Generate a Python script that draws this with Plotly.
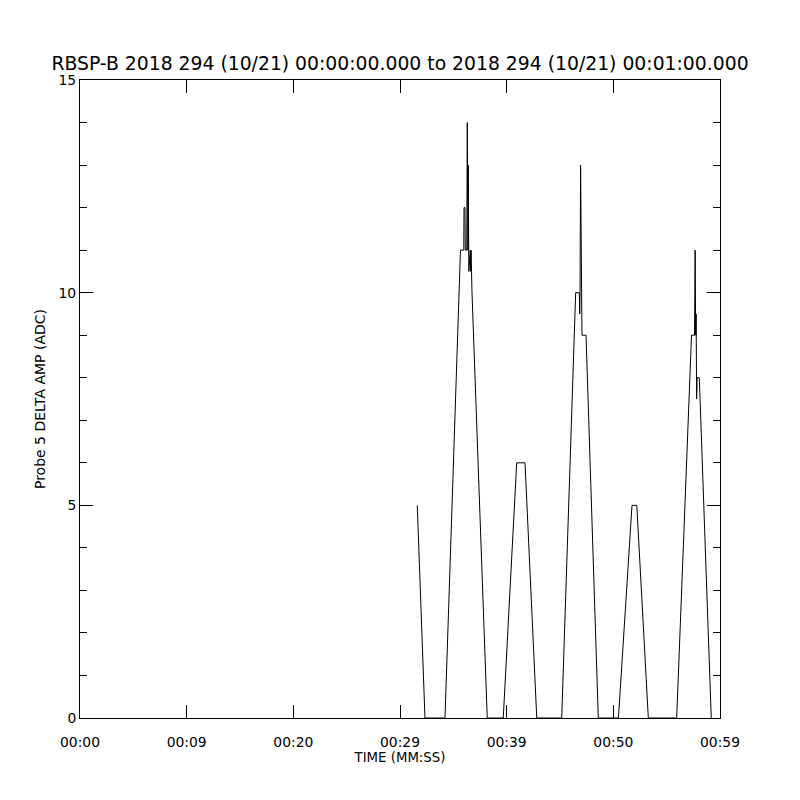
import plotly.graph_objects as go

# Time (seconds from 00:00:00) and Probe 5 DELTA AMP (ADC) values
time_s = [
    31.62, 32.34,
    34.22, 35.67, 35.98, 36.00, 36.09, 36.12, 36.26, 36.31, 36.37, 36.40, 36.45,
    36.52, 36.59, 36.62, 36.66, 36.75, 38.18,
    39.68, 40.94, 41.72, 42.82,
    45.16, 46.47, 46.81, 46.85, 46.88, 46.93, 46.97, 47.01, 47.06, 47.44, 48.59,
    50.48, 51.75, 52.20, 53.28,
    55.94, 57.33, 57.61, 57.67, 57.72, 57.76, 57.81, 57.86, 58.06, 59.18,
]
amp_adc = [
    5, 0,
    0, 11, 11, 12, 12, 11, 11, 14, 11, 13, 10.5,
    11, 11, 10.5, 11, 10, 0,
    0, 6, 6, 0,
    0, 10, 10, 9.5, 10, 13, 11, 12, 9, 9, 0,
    0, 5, 5, 0,
    0, 9, 9, 11, 9, 9.5, 7.5, 8, 8, 0,
]

x_tickvals = [0, 10, 20, 30, 40, 50, 60]
x_ticktext = ["00:00", "00:09", "00:20", "00:29", "00:39", "00:50", "00:59"]
y_tickvals = [0, 5, 10, 15]

title_text = "RBSP-B 2018 294 (10/21) 00:00:00.000 to 2018 294 (10/21) 00:01:00.000"

FONT = "DejaVu Sans"
PAGE_OFFSET = 8  # default body margin of the html page

fig = go.Figure()
fig.add_trace(go.Scatter(
    x=time_s, y=amp_adc, mode="lines",
    line=dict(color="black", width=1),
    hoverinfo="skip", showlegend=False,
))

fig.update_layout(
    width=800, height=800,
    margin=dict(l=80 - PAGE_OFFSET, r=80 + PAGE_OFFSET, t=80 - PAGE_OFFSET, b=82 + PAGE_OFFSET),
    paper_bgcolor="white", plot_bgcolor="white",
    font=dict(family=FONT, color="black", size=14),
    title=dict(text=title_text, x=0.5, xanchor="center", xref="paper",
               y=1 - (63 - PAGE_OFFSET) / 800, yref="container", yanchor="middle",
               font=dict(family=FONT, size=18.8, color="black")),
    showlegend=False,
)

fig.update_xaxes(
    range=[0, 60], autorange=False,
    tickmode="array", tickvals=x_tickvals, ticktext=x_ticktext,
    ticks="inside", ticklen=13, tickwidth=1, tickcolor="black",
    showline=True, linecolor="black", linewidth=1, mirror="ticks",
    showgrid=False, zeroline=False,
    tickfont=dict(family=FONT, size=13.9, color="black"),
    ticklabelstandoff=11,
    title=dict(text="TIME (MM:SS)", font=dict(family=FONT, size=13.3, color="black"), standoff=3),
)

fig.update_yaxes(
    range=[0, 15], autorange=False,
    tickmode="array", tickvals=y_tickvals,
    ticks="inside", ticklen=13, tickwidth=1, tickcolor="black",
    minor=dict(dtick=1, ticks="inside", ticklen=7, tickwidth=1, tickcolor="black", showgrid=False),
    showline=True, linecolor="black", linewidth=1, mirror="ticks",
    showgrid=False, zeroline=False,
    tickfont=dict(family=FONT, size=13.9, color="black"),
    title=dict(text="Probe 5 DELTA AMP (ADC)", font=dict(family=FONT, size=14, color="black"), standoff=9),
)

fig.write_html("out.html")
